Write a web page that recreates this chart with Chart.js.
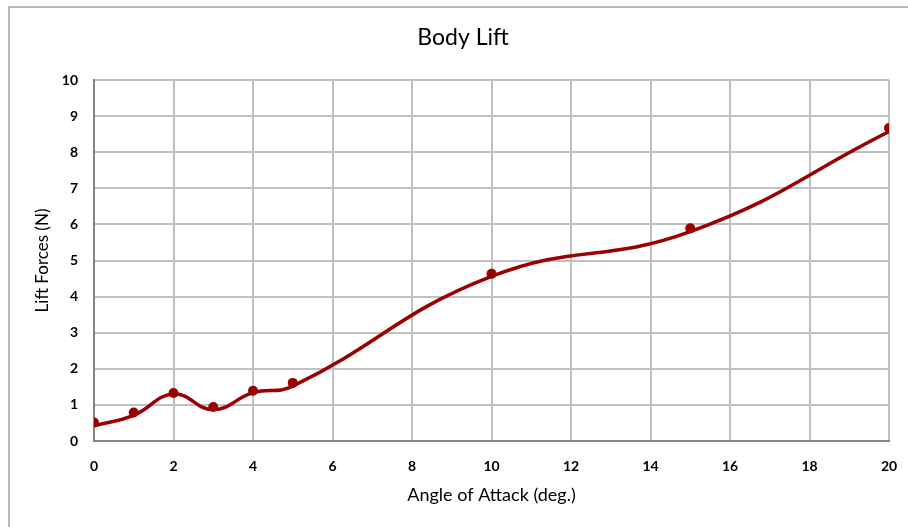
<!DOCTYPE html>
<html>
<head>
<meta charset="utf-8">
<script src="https://cdn.jsdelivr.net/npm/chart.js@4"></script>
<style>
	html, body { margin: 0; padding: 0; background: #fff; }
	#wrap { width: 908px; height: 527px; }
</style>
</head>
<body>
<div id="wrap"><canvas id="chart_one" width="908" height="527"></canvas></div>
<script>
// measured points
var angles = [0, 1, 2, 3, 4, 5, 10, 15, 20]
var liftForces = [0.51, 0.79, 1.33, 0.94, 1.39, 1.61, 4.63, 5.89, 8.67]
// smoothed curve as drawn (sits a little under the markers)
var liftCurve = [0.42, 0.71, 1.30, 0.87, 1.34, 1.52, 4.56, 5.80, 8.57]

var xTicks = [0, 2, 4, 6, 8, 10, 12, 14, 16, 18, 20]
var yTicks = [0, 1, 2, 3, 4, 5, 6, 7, 8, 9, 10]

var red = "#990000"
var gridColor = "#c0c0c0"
var fontFamily = "Lato, 'Open Sans', sans-serif"

var toPoints = (xs, ys) => xs.map((x, i) => ({ x: x, y: ys[i] }))

// grey frame around the chart like the original (right/bottom cropped)
var framePlugin = {
	id: "frame",
	beforeDraw: function(chart) {
		var ctx = chart.ctx
		ctx.save()
		ctx.strokeStyle = "#b8b8b8"
		ctx.lineWidth = 2
		ctx.beginPath()
		ctx.moveTo(9, 530)
		ctx.lineTo(9, 7)
		ctx.lineTo(910, 7)
		ctx.stroke()
		ctx.restore()
	}
}

var ctx_one = document.getElementById("chart_one").getContext("2d")

var chart_one = new Chart(ctx_one, {
	type: "line",
	data: {
		datasets: [
			{
				label: "Curve",
				data: toPoints(angles, liftCurve),
				borderColor: red,
				borderWidth: 3.5,
				pointRadius: 0,
				tension: 0.45,
				fill: false,
				order: 2
			},
			{
				label: "Lift",
				data: toPoints(angles, liftForces),
				showLine: false,
				pointRadius: 5,
				pointBackgroundColor: red,
				pointBorderColor: red,
				pointBorderWidth: 0,
				order: 1
			}
		]
	},
	options: {
		responsive: false,
		animation: false,
		layout: {
			padding: { left: 37, right: 19, top: 16, bottom: 0 }
		},
		plugins: {
			legend: { display: false },
			tooltip: { enabled: false },
			title: {
				display: true,
				text: "Body Lift",
				color: "#000",
				font: { family: fontFamily, size: 23, weight: "normal" },
				padding: { top: 8, bottom: 28.4 }
			}
		},
		scales: {
			x: {
				type: "linear",
				min: 0,
				max: 20,
				afterBuildTicks: function(scale) {
					scale.ticks = xTicks.map(v => ({ value: v }))
				},
				afterFit: function(scale) {
					scale.height = 86
					scale.paddingLeft = 0
					scale.paddingRight = 0
				},
				grid: { color: gridColor, lineWidth: 2, drawTicks: false },
				border: { color: "#868686", width: 2 },
				ticks: {
					color: "#000",
					padding: 17,
					font: { family: fontFamily, size: 14, weight: "bold" }
				},
				title: {
					display: true,
					text: "Angle of Attack (deg.)",
					color: "#000",
					font: { family: fontFamily, size: 18, weight: "normal" },
					padding: { top: 0, bottom: 21 }
				}
			},
			y: {
				min: 0,
				max: 10,
				afterBuildTicks: function(scale) {
					scale.ticks = yTicks.map(v => ({ value: v }))
				},
				afterFit: function(scale) {
					scale.width = 57
				},
				grid: { color: gridColor, lineWidth: 2, drawTicks: false },
				border: { color: "#868686", width: 2 },
				ticks: {
					color: "#000",
					padding: 16,
					font: { family: fontFamily, size: 14, weight: "bold" }
				},
				title: {
					display: true,
					text: "Lift Forces (N)",
					color: "#000",
					font: { family: fontFamily, size: 17, weight: "normal" },
					padding: { top: -4.2, bottom: 0 }
				}
			}
		}
	},
	plugins: [framePlugin]
})
</script>
</body>
</html>
